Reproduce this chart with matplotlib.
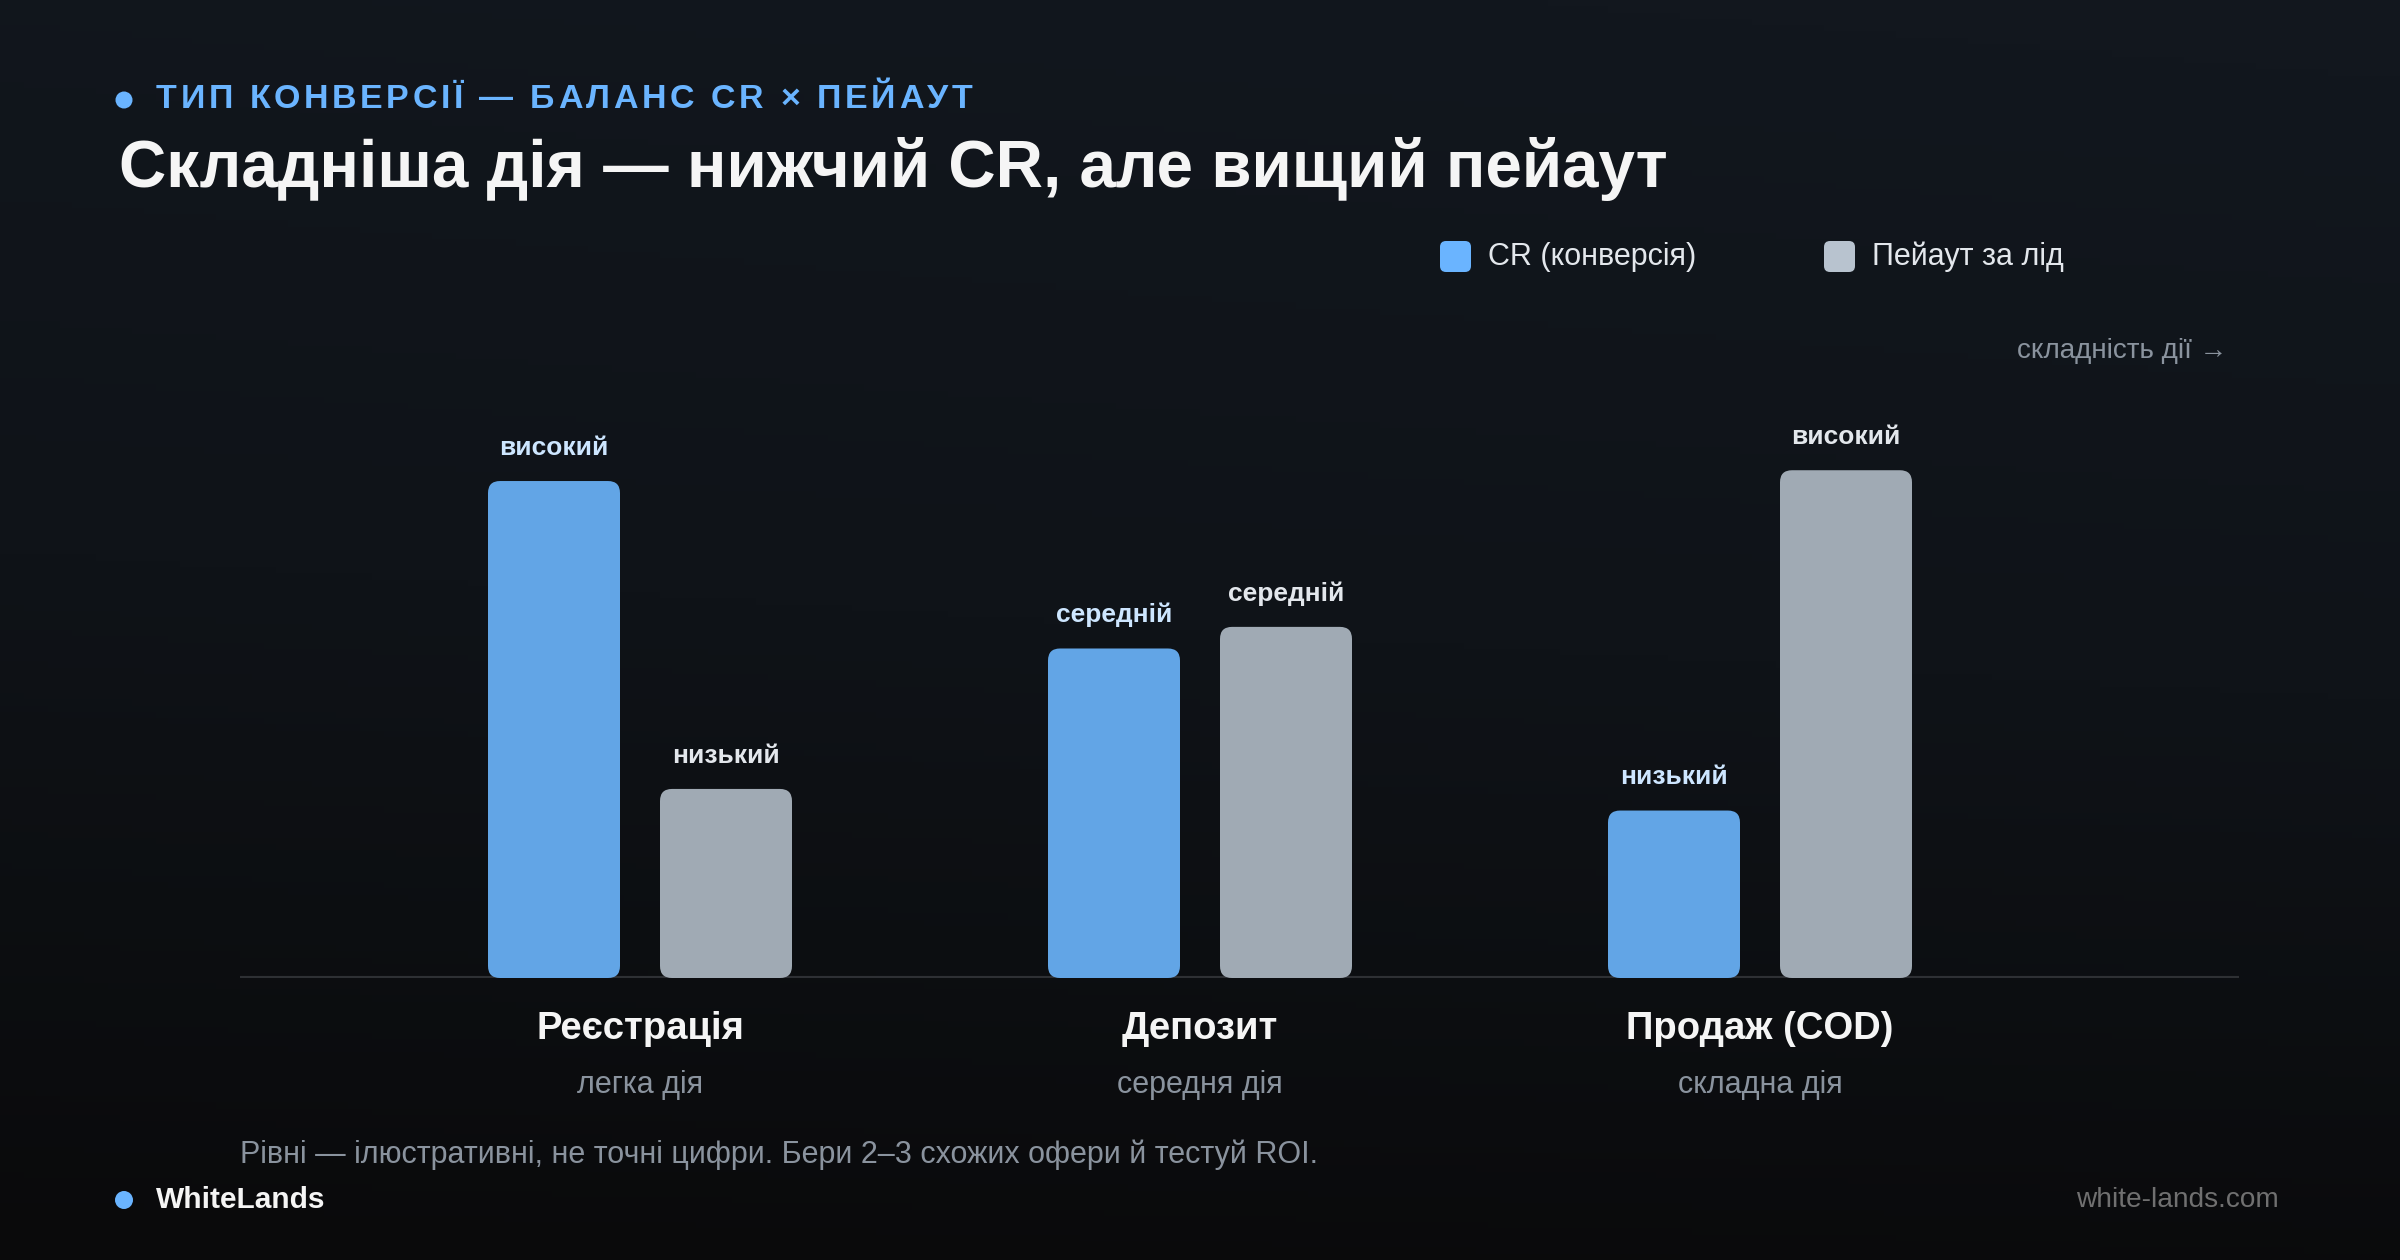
import numpy as np
import matplotlib
matplotlib.use('Agg')
import matplotlib.pyplot as plt
from matplotlib.patches import FancyBboxPatch, Circle
from matplotlib.colors import LinearSegmentedColormap

plt.rcParams['font.family'] = ['Liberation Sans', 'DejaVu Sans']

# --- data (illustrative levels) ---
categories = ['Реєстрація', 'Депозит', 'Продаж (COD)']
sublabels = ['легка дія', 'середня дія', 'складна дія']
cr_values = [92, 61, 31]
payout_values = [35, 65, 94]
cr_levels = ['високий', 'середній', 'низький']
payout_levels = ['низький', 'середній', 'високий']
series_names = ['CR (конверсія)', 'Пейаут за лід']

W, H = 2400, 1260
CR_BAR, PAY_BAR = '#62a5e6', '#a0aab4'
CR_SW, PAY_SW = '#6ab4ff', '#b8c3cf'
CR_TXT, PAY_TXT = '#cde6ff', '#e3e7ec'
GREY = '#8a939e'

fig = plt.figure(figsize=(W / 100, H / 100), dpi=100)

# background / overlay in pixel coordinates
bg = fig.add_axes([0, 0, 1, 1], zorder=0)
bg.set_xlim(0, W); bg.set_ylim(H, 0); bg.axis('off')
cmap = LinearSegmentedColormap.from_list('bg', ['#12171e', '#0f1318', '#0a0a0b'])
yy, xx = np.mgrid[0:1:200j, 0:1:200j]
grad = np.clip(yy * 0.85 + (1 - xx) * 0.05 - (xx - 0.5) * 0.1 * (1 - yy), 0, 1)
bg.imshow(grad, cmap=cmap, extent=[0, W, H, 0], aspect='auto', zorder=0)

# chart axes
y0, ytop = 978, 400
ax = fig.add_axes([240 / W, (H - y0) / H, 1999 / W, (y0 - ytop) / H], zorder=1)
ax.patch.set_alpha(0)
ax.set_xlim(-400 / 560, 1599 / 560)
ax.set_ylim(0, 107)
ax.axis('off')
ax.axhline(0, color='#2e3034', lw=3, zorder=1)

px_x = 1999 / (1599 / 560 + 400 / 560)
px_y = (y0 - ytop) / 107
bw, off = 132 / 560, 86 / 560
r = 12 / px_x
asp = px_x / px_y


def rbar(x, h, color):
  p = FancyBboxPatch((x - bw / 2, 0), bw, h,
                     boxstyle=f'round,pad=0,rounding_size={r}',
                     mutation_aspect=asp, fc=color, ec='none', zorder=2)
  ax.add_patch(p)


for i in range(len(categories)):
  for dx, v, lab, col, tcol in [(-off, cr_values[i], cr_levels[i], CR_BAR, CR_TXT),
                                (off, payout_values[i], payout_levels[i], PAY_BAR, PAY_TXT)]:
    rbar(i + dx, v, col)
    ax.annotate(lab, (i + dx, v), xytext=(0, 24), textcoords='offset points',
                ha='center', va='center', fontsize=19, fontweight='bold', color=tcol)
  ax.annotate(categories[i], (i, 0), xytext=(0, -37), textcoords='offset points',
              ha='center', va='center', fontsize=27.5, fontweight='bold',
              color='#f5f5f5', annotation_clip=False)
  ax.annotate(sublabels[i], (i, 0), xytext=(0, -77), textcoords='offset points',
              ha='center', va='center', fontsize=22, color=GREY,
              annotation_clip=False)


def spaced_text(x, y, s, spacing, **kw):
  """Left-aligned text with extra letter spacing (pixels)."""
  rend = fig.canvas.get_renderer()
  inv = bg.transData.inverted()
  for ch in s:
    t = bg.text(x, y, ch, **kw)
    bb = t.get_window_extent(rend)
    x0, _ = inv.transform((bb.x0, bb.y0))
    x1, _ = inv.transform((bb.x1, bb.y0))
    x += (x1 - x0) + spacing


# header
bg.add_patch(Circle((124, 100), 8.5, fc=CR_SW, ec='none'))
spaced_text(156, 99, 'ТИП КОНВЕРСІЇ — БАЛАНС CR × ПЕЙАУТ', 3.6, fontsize=24.5,
            fontweight='bold', color=CR_SW, va='center', ha='left')
bg.text(119, 169, 'Складніша дія — нижчий CR, але вищий пейаут', fontsize=47.2,
        fontweight='bold', color='#f5f5f5', va='center', ha='left')

# legend
for x, name, c in [(1440, series_names[0], CR_SW), (1824, series_names[1], PAY_SW)]:
  bg.add_patch(FancyBboxPatch((x, 241), 31, 31,
                              boxstyle='round,pad=0,rounding_size=6',
                              fc=c, ec='none'))
  bg.text(x + 48, 257, name, fontsize=22, color='#e3e7ec', va='center', ha='left')

bg.text(2227, 351, 'складність дії →', fontsize=20, color=GREY,
        va='center', ha='right')

# footer
bg.text(240, 1155, 'Рівні — ілюстративні, не точні цифри. Бери 2–3 схожих офери й тестуй ROI.',
        fontsize=22, color=GREY, va='center', ha='left')
bg.add_patch(Circle((124, 1200), 9, fc=CR_SW, ec='none'))
bg.text(156, 1200, 'WhiteLands', fontsize=21.5, fontweight='bold', color='#f5f5f5',
        va='center', ha='left')
bg.text(2279, 1200, 'white-lands.com', fontsize=20.2, color='#707070',
        va='center', ha='right')

fig.savefig('out.png', dpi=100)
